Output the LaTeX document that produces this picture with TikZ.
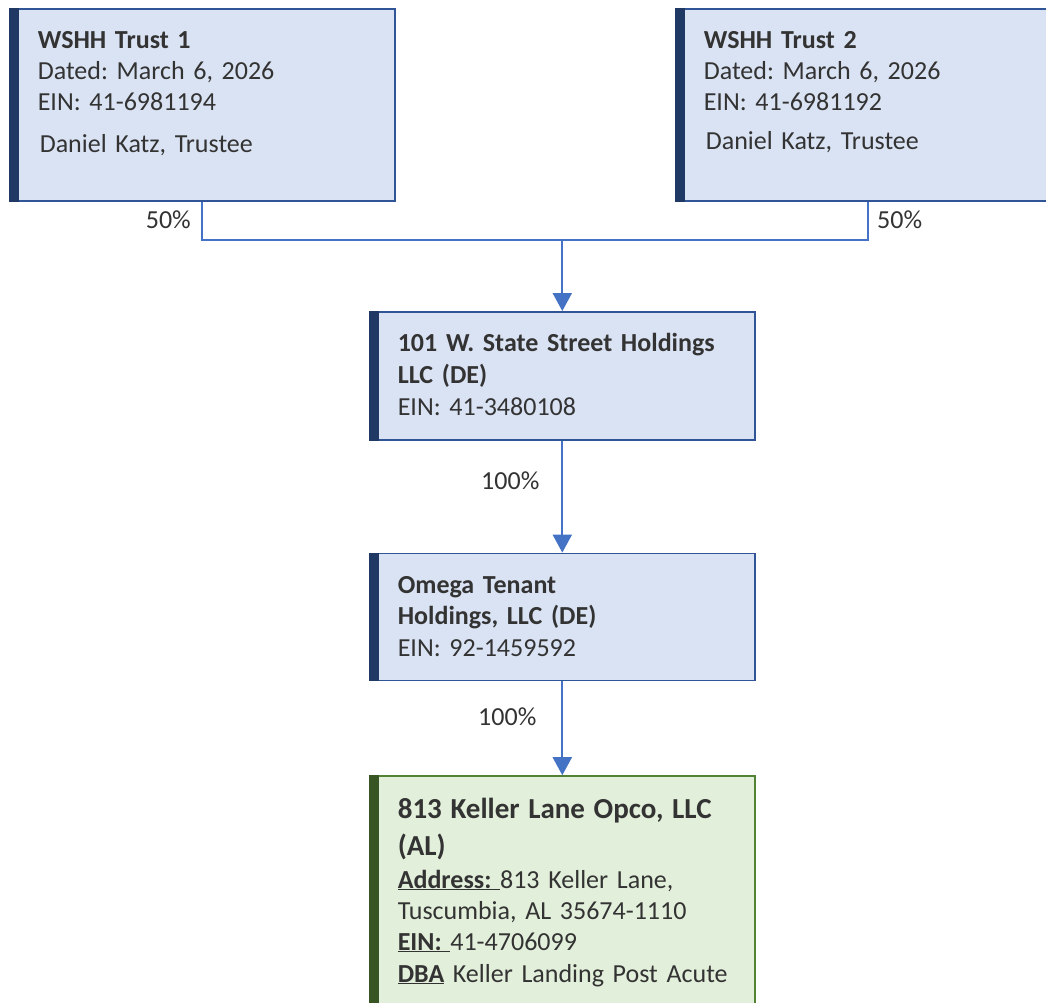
\documentclass[tikz,border=0pt]{standalone}
\usepackage{fontspec}
\setmainfont{Carlito}
\usepackage{xcolor}
\usetikzlibrary{positioning,calc,arrows.meta}

\definecolor{boxfill}{HTML}{DAE3F3}
\definecolor{boxline}{HTML}{2F5597}
\definecolor{boxbar}{HTML}{1F3864}
\definecolor{opcofill}{HTML}{E2EFDA}
\definecolor{opcoline}{HTML}{548235}
\definecolor{opcobar}{HTML}{375623}
\definecolor{linkblue}{HTML}{4472C4}
\definecolor{ink}{HTML}{333333}
\frenchspacing

\begin{document}
\begin{tikzpicture}[x=1pt, y=-1pt,
    entity/.style={draw=boxline, fill=boxfill, line width=1.6pt, anchor=north west,
        inner xsep=28pt, inner ysep=0pt, text width=329pt, align=left,
        text height=40pt, text=ink, font=\fontsize{26}{31}\selectfont},
    opco/.style={entity, draw=opcoline, fill=opcofill, text height=42pt},
    pct/.style={text=ink, inner sep=0pt, font=\fontsize{26}{31}\selectfont},
    link/.style={draw=linkblue, line width=2.2pt},
    own/.style={link, -{Triangle[width=19pt,length=18pt]}}]

    \path[use as bounding box, fill=white] (0,0) rectangle (1046,1002);

    % trusts
    \node [entity, text depth=152pt] (t1) at (9,8)
        {\textbf{WSHH Trust 1}\\ Dated: March 6, 2026\\ EIN: 41-6981194\\[11pt]
         \hspace*{2pt}Daniel Katz, Trustee};
    \node [entity, text depth=152pt] (t2) at (675,8)
        {\textbf{WSHH Trust 2}\\ Dated: March 6, 2026\\ EIN: 41-6981192\\[8pt]
         \hspace*{2pt}Daniel Katz, Trustee};

    % holding chain
    \node [entity, text depth=88pt] (hold) at (369,311)
        {\textbf{101 W. State Street Holdings}\\[1pt] \textbf{LLC (DE)}\\[1pt] EIN: 41-3480108};
    \node [entity, text depth=87pt, below=112pt of hold] (omega)
        {\textbf{Omega Tenant}\\ \textbf{Holdings, LLC (DE)}\\[1pt] EIN: 92-1459592};
    \node [opco, text depth=240pt, below=94pt of omega] (kl)
        {{\fontsize{29}{37}\selectfont\bfseries 813 Keller Lane Opco, LLC}\\[6pt]
         {\fontsize{29}{37}\selectfont\bfseries (AL)}\\[2pt]
         \underline{\textbf{Address:\ }}813 Keller Lane,\\
         Tuscumbia, AL 35674-1110\\
         \underline{\textbf{EIN:\ }}41-4706099\\[1pt]
         \mbox{\underline{\textbf{DBA}} Keller Landing Post Acute}};

    % dark bars on the left side
    \foreach \n in {t1,t2,hold,omega}
        \fill[boxbar] (\n.north west) rectangle ([xshift=10pt]\n.south west);
    \fill[opcobar] (kl.north west) rectangle ([xshift=10pt]kl.south west);

    % ownership lines
    \coordinate (jn) at (hold.north |- 0,240);
    \draw[link] (t1.south) |- (jn) -| (t2.south);
    \draw[own] (jn) -- (hold.north);
    \draw[own] (hold.south) -- (omega.north);
    \draw[own] (omega.south) -- (kl.north);

    \node[pct, anchor=base east] (p1) at (191,228) {50\%};
    \node[pct, anchor=base west] (p2) at (877,228) {50\%};
    \node[pct, anchor=base west] (p3) at (481,489) {100\%};
    \node[pct, anchor=base west] (p4) at (478,725) {100\%};
\end{tikzpicture}
\end{document}
